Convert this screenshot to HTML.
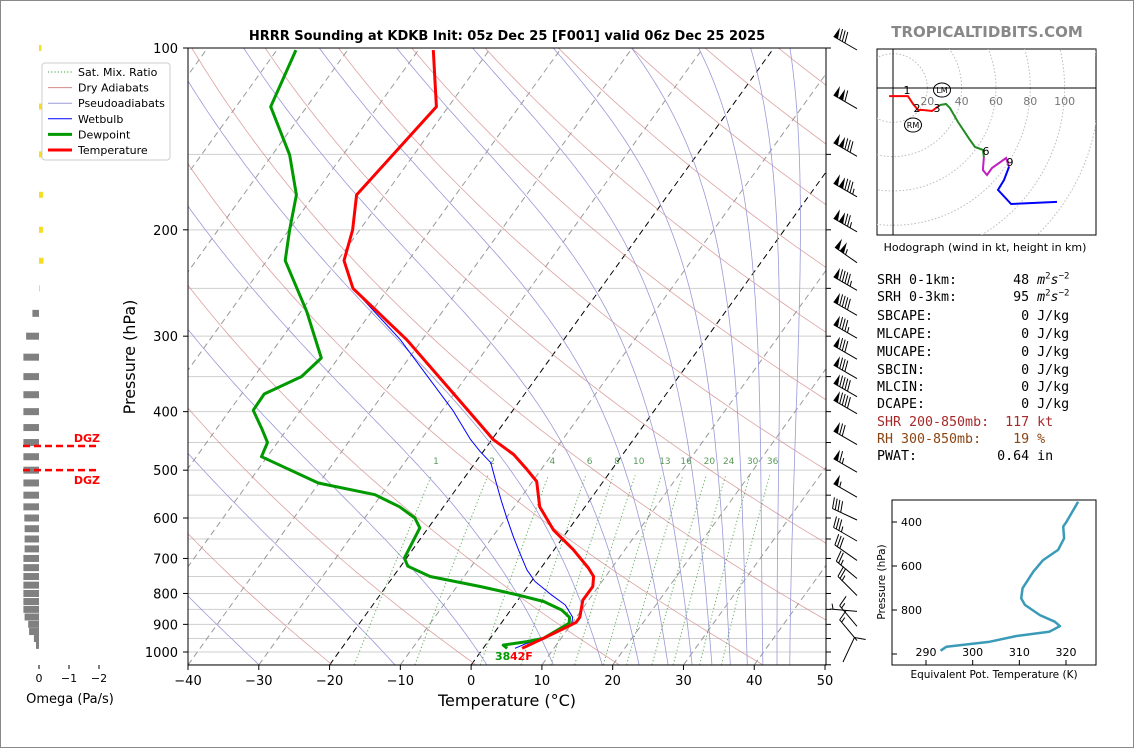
<!DOCTYPE html>
<html><head><meta charset="utf-8">
<style>
html,body{margin:0;padding:0;background:#fff;}
#wrap{position:relative;width:1134px;height:748px;overflow:hidden;font-family:"DejaVu Sans","Liberation Sans",sans-serif;}
.tp{position:absolute;left:877px;font-family:"DejaVu Sans Mono","Liberation Mono",monospace;font-size:13.3px;white-space:pre;line-height:16px;color:#000;}
.tp sup{font-size:9px;line-height:0;}
</style></head>
<body>
<div id="wrap">
<svg id="svg" width="1134" height="748" xmlns="http://www.w3.org/2000/svg" style="position:absolute;left:0;top:0">
<defs>
<clipPath id="clipMain"><rect x="188" y="48" width="638" height="617"/></clipPath>
<clipPath id="clipHodo"><rect x="877" y="49" width="219" height="186"/></clipPath>
<clipPath id="clipTe"><rect x="892" y="500" width="204" height="165"/></clipPath>
</defs>
<rect x="0.5" y="0.5" width="1133" height="747" fill="#fff" stroke="#888"/>
<text x="507" y="40" text-anchor="middle" font-size="13" font-weight="bold">HRRR Sounding at KDKB Init: 05z Dec 25 [F001] valid 06z Dec 25 2025</text>
<text x="987" y="37" text-anchor="middle" font-size="15" font-weight="bold" fill="#888">TROPICALTIDBITS.COM</text>
<g id="bg" clip-path="url(#clipMain)"></g>
<g id="series" clip-path="url(#clipMain)"></g>
<rect x="188" y="48" width="638" height="617" fill="none" stroke="#000" stroke-width="1"/>
<g id="axes"></g>
<text x="507" y="706" text-anchor="middle" font-size="16">Temperature (°C)</text>
<text transform="translate(135,357) rotate(-90)" text-anchor="middle" font-size="16">Pressure (hPa)</text>
<g id="barbs"></g>
<g id="omega"></g>
<g id="legend"></g>
<g id="hodo"></g>
<g id="te"></g>
</svg>
<div class="tp" style="top:273px">SRH 0-1km:       48 <i>m</i><sup>2</sup><i>s</i><sup>−2</sup></div>
<div class="tp" style="top:290px">SRH 0-3km:       95 <i>m</i><sup>2</sup><i>s</i><sup>−2</sup></div>
<div class="tp" style="top:309px">SBCAPE:           0 J/kg</div>
<div class="tp" style="top:327px">MLCAPE:           0 J/kg</div>
<div class="tp" style="top:345px">MUCAPE:           0 J/kg</div>
<div class="tp" style="top:363px">SBCIN:            0 J/kg</div>
<div class="tp" style="top:380px">MLCIN:            0 J/kg</div>
<div class="tp" style="top:397px">DCAPE:            0 J/kg</div>
<div class="tp" style="top:415px;color:#a52a2a">SHR 200-850mb:  117 kt</div>
<div class="tp" style="top:432px;color:#8b4513">RH 300-850mb:    19 %</div>
<div class="tp" style="top:449px">PWAT:          0.64 in</div>
</div>
<script>
// ---------- data ----------
const tempP = [100.8,125.1,175.1,200.1,224.9,250,304,372.7,445,471,497,522,575,628,677,726,750,779,821,876,893,910,949,986];
const tempT = [-67.9,-61.7,-64.0,-61.0,-59.1,-55.0,-42.2,-30.2,-19.8,-15.4,-12.2,-9.4,-6.4,-2.1,2.7,6.7,8.3,9.2,9.2,10.5,10.5,9.6,7.5,5.5];
const dewP = [100.8,125.1,150.4,175.1,200.1,224.9,273,326,350,374,398,426,450,475,525,549,575,600,623,699,721,750,779,806,825,852,876,896,949,961,974,986];
const dewT = [-87.3,-85.1,-77.5,-72.5,-69.9,-67.4,-59.2,-52.4,-53.3,-56.8,-56.7,-53.7,-51.4,-50.8,-40.1,-30.9,-26.2,-22.9,-21.2,-20.3,-19.0,-14.8,-6.7,-0.2,3.8,7.2,9.05,9.6,7.5,5.5,2.5,3.4];
const wbP = [100.8,125.1,175.1,200.1,224.9,250,304,398,445,466,486,526,561,597,644,686,731,764,801,836,876,898,949,968,986];
const wbT = [-67.9,-61.7,-64.0,-61.0,-59.1,-55.0,-43.1,-28.5,-23.0,-20.4,-17.8,-14.9,-12.5,-10.1,-7.1,-4.5,-1.8,0.5,3.9,7.2,9.5,10.0,7.5,5.6,4.5];
const mixRatios = [1,2,4,6,8,10,13,16,20,24,30,36];
const mixLabels = ["1","2","4","6","8","10","13","16","20","24","30","36"];
const dryThetas = [230,250,270,290,310,330,350,370,390,410,430,450,470,490,510];
const moistT0 = [-30,-10.8,2.2,11.6,18.5,23.7,27.8,31.2,34,36.6,39,41.2,43.2,45];
const isotherms = [-120,-110,-100,-90,-80,-70,-60,-50,-40,-30,-20,-10,0,10,20,30,40,50];
const gridP = [100,150,200,250,300,350,400,450,500,550,600,650,700,750,800,850,900,950,1000,1050];
const yTickP = [100,200,300,400,500,600,700,800,900,1000];
const xTickT = [-40,-30,-20,-10,0,10,20,30,40,50];
const barbP = [100,125,150,175,200,225,250,275,300,325,350,375,400,450,500,550,600,650,700,750,800,850,900,950,1000];
const barbSpd = [80,110,130,135,125,105,95,90,85,80,80,90,90,70,65,55,40,35,30,25,25,5,15,15,10];
const barbDir = [300,300,300,300,300,305,300,300,300,300,300,300,300,300,300,300,295,300,305,310,315,275,320,320,25];
const omegaP = [275,300,325,350,375,400,425,450,475,500,525,550,575,600,625,650,675,700,725,750,775,800,825,850,875,900,925,950,975];
const omegaV = [0.22,0.43,0.52,0.52,0.52,0.52,0.52,0.52,0.52,0.52,0.52,0.52,0.52,0.49,0.48,0.48,0.48,0.52,0.52,0.52,0.52,0.52,0.52,0.52,0.48,0.36,0.33,0.17,0.1];
const omegaNegP = [100,125,150,175,200,225,250];
const omegaNegV = [-0.08,-0.13,-0.1,-0.13,-0.13,-0.15,-0.03];
const hodoU = [-2.3,8.7,11.7,14.6,17.5,22.7, 27.4,30.9,33.2,37.9,44.9,47.8,52.4, 53,52.4,54.8,57.7,65.9, 67.6,64.7,61.2,68.8,95.6];
const hodoV = [-4.7,-4.7,-9.3,-12.8,-12.8,-13.4, -9.9,-9.3,-11.7,-19.8,-30.3,-34.4,-36.1, -40.2,-47.8,-50.7,-46.6,-40.8, -46,-53.6,-59.4,-67.6,-66.4];
const hodoSeg = [0,0,0,0,0,0, 1,1,1,1,1,1,1, 2,2,2,2,2, 3,3,3,3,3];
const teTheta = [322.6,320.1,319.4,319.6,318.3,315.1,313.0,310.7,310.4,311.2,314.4,317.6,318.7,316.4,309.4,303.7,294.4,293.1];
const teP = [308,399,421,474,527,573,626,701,747,777,823,853,873,899,918,944,967,985];

// ---------- helpers ----------
const NS = "http://www.w3.org/2000/svg";
function mk(tag, attrs, parent){ const e=document.createElementNS(NS,tag); for(const k in attrs) e.setAttribute(k,attrs[k]); parent.appendChild(e); return e; }
const yP = p => 48 + 604*Math.log10(p/100);
const xT = (T,p) => 188 + (T+40)*7.078 + 0.72*(665 - yP(p));
function logRange(p0,p1,n){ const a=[]; for(let i=0;i<=n;i++){ a.push(p0*Math.pow(p1/p0,i/n)); } return a; }
function ptsStr(arr){ return arr.map(q=>q[0].toFixed(1)+","+q[1].toFixed(1)).join(" "); }

const bg = document.getElementById('bg');
const series = document.getElementById('series');
const axes = document.getElementById('axes');

gridP.forEach(p=>{
  const l = mk('line',{x1:188,x2:826,y1:yP(p),y2:yP(p),stroke:'#cfcfcf','stroke-width':1},bg);
  
  
});
isotherms.forEach(T=>{
  const blk = (T===0||T===-20);
  const l = mk('line',{x1:xT(T,1050),y1:yP(1050),x2:xT(T,100),y2:yP(100),stroke:blk?'#000':'#999','stroke-width':1,'stroke-dasharray':'6,4'},bg);
  
  
});
const pl = logRange(1050,100,60);
dryThetas.forEach(th=>{
  const pts = pl.map(p=>[xT(th*Math.pow(p/1000,0.2857)-273.15,p), yP(p)]);
  const l = mk('polyline',{points:ptsStr(pts),fill:'none',stroke:'#d48a8a','stroke-width':0.8,opacity:0.8},bg);
  
  
});
function es(Tc){ return 6.112*Math.exp(17.67*Tc/(Tc+243.5)); }
moistT0.forEach(t0=>{
  let T=t0+273.15; const pts=[]; const n=200; let p=1050;
  const dl = Math.log(100/1050)/n;
  for(let i=0;i<=n;i++){
    pts.push([xT(T-273.15,p),yP(p)]);
    const e=es(T-273.15); const rs=0.622*e/Math.max(p-e,1);
    const dTdl=(287*T+2.5e6*rs)/(1005+2.5e6*2.5e6*rs*0.622/(287*T*T));
    T += dTdl*dl; p = p*Math.exp(dl);
  }
  const l = mk('polyline',{points:ptsStr(pts),fill:'none',stroke:'#9a9ad8','stroke-width':0.8},bg);
  
  
});
function tdFromW(w,p){ const e=w*p/(622+w); const L=Math.log(e/6.112); return 243.5*L/(17.67-L); }
mixRatios.forEach((w,i)=>{
  const pts = logRange(1050,510,20).map(p=>[xT(tdFromW(w,p),p),yP(p)]);
  const l = mk('polyline',{points:ptsStr(pts),fill:'none',stroke:'#3c9a3c','stroke-width':1,'stroke-dasharray':'1.2,2.4',opacity:0.8},bg);
  
  
  const t = mk('text',{x:xT(tdFromW(w,490),490),y:yP(490)-1,'text-anchor':'middle','font-size':9,fill:'#5a9a5a'},bg);
  t.textContent = mixLabels[i];
  
  
});
function drawSeries(P,T,color,w,name){
  const pts = P.map((p,i)=>[xT(T[i],p),yP(p)]);
  const l = mk('polyline',{points:ptsStr(pts),fill:'none',stroke:color,'stroke-width':w,'stroke-linejoin':'round'},series);
  
  
}
drawSeries(wbP,wbT,'#0000ff',1,'wetbulb-line');
drawSeries(dewP,dewT,'#009900',3,'dewpoint-line');
drawSeries(tempP,tempT,'#ff0000',3,'temperature-line');
{
  const t1 = mk('text',{x:495,y:660,'font-size':11,'font-weight':'bold',fill:'#009900'},series);
  t1.textContent='38';
  
  
  const t2 = mk('text',{x:510,y:660,'font-size':11,'font-weight':'bold',fill:'#ff0000'},series);
  t2.textContent='42F';
  
  
}
xTickT.forEach(T=>{
  const x = 188+(T+40)*7.078;
  mk('line',{x1:x,x2:x,y1:665,y2:670,stroke:'#000'},axes);
  const t = mk('text',{x:x,y:685,'text-anchor':'middle','font-size':13},axes);
  t.textContent = (T<0?'\u2212':'')+Math.abs(T);
  
  
});
yTickP.forEach(p=>{
  mk('line',{x1:183,x2:188,y1:yP(p),y2:yP(p),stroke:'#000'},axes);
  const t = mk('text',{x:178,y:yP(p)+5,'text-anchor':'end','font-size':13},axes);
  t.textContent = p;
  
  
});
gridP.forEach(p=>{ if(yP(p)<=665) mk('line',{x1:826,x2:831,y1:yP(p),y2:yP(p),stroke:'#000'},axes); });

// wind barbs
const barbs = document.getElementById('barbs');
barbP.forEach((p,i)=>{
  const g = mk('g',{},barbs);
  
  
  const d = barbDir[i]*Math.PI/180;
  const ux = Math.sin(d), uy = -Math.cos(d);
  const last = (i===barbP.length-1);
  const bx = last?843:857, by = last?yP(p)+10:yP(p)+2;
  const L = 27;
  const tx = bx+ux*L, ty = by+uy*L;
  mk('line',{x1:bx,y1:by,x2:tx,y2:ty,stroke:'#000','stroke-width':1},g);
  const px = -uy, py = ux;
  let spd = Math.round(barbSpd[i]/5)*5; let pos = 0;
  const flen = 11;
  while(spd>=50){
    const sx=tx-ux*pos, sy=ty-uy*pos;
    const ex=sx-ux*5, ey=sy-uy*5;
    mk('polygon',{points:`${sx},${sy} ${ex},${ey} ${sx+px*flen-ux*1},${sy+py*flen-uy*1}`,fill:'#000'},g);
    pos+=6; spd-=50;
  }
  if(pos>0) pos+=1;
  while(spd>=10){
    const sx=tx-ux*pos, sy=ty-uy*pos;
    mk('line',{x1:sx,y1:sy,x2:sx+px*flen+ux*3,y2:sy+py*flen+uy*3,stroke:'#000','stroke-width':1},g);
    pos+=3; spd-=10;
  }
  if(spd>=5){
    if(pos===0) pos=3;
    const sx=tx-ux*pos, sy=ty-uy*pos;
    mk('line',{x1:sx,y1:sy,x2:sx+px*flen*0.5+ux*1.5,y2:sy+py*flen*0.5+uy*1.5,stroke:'#000','stroke-width':1},g);
  }
});

// omega panel
const om = document.getElementById('omega');
const xO = v => 39 - v*30;
omegaP.forEach((p,i)=>{
  const x0=xO(omegaV[i]);
  const r = mk('rect',{x:Math.min(x0,39),y:yP(p)-3.5,width:Math.abs(39-x0),height:7,fill:'#808080'},om);
  
  
});
omegaNegP.forEach((p,i)=>{
  const x0=xO(omegaNegV[i]);
  const r = mk('rect',{x:39,y:yP(p)-3,width:Math.abs(x0-39),height:6,fill:'#f5dd20'},om);
  
  
});
[[456,'DGZ',-4],[500,'DGZ',14]].forEach(d=>{
  const l = mk('line',{x1:23,x2:99,y1:yP(d[0]),y2:yP(d[0]),stroke:'#ff0000','stroke-width':2.5,'stroke-dasharray':'7,4'},om);
  
  
  const t = mk('text',{x:100,y:yP(d[0])+d[2],'text-anchor':'end','font-size':11,'font-weight':'bold',fill:'#ff0000'},om);
  t.textContent=d[1];
  
  
});
[[0,'0'],[-1,'\u22121'],[-2,'\u22122']].forEach(d=>{
  const x=xO(d[0]);
  mk('line',{x1:x,x2:x,y1:665,y2:669,stroke:'#000'},om);
  const t=mk('text',{x:x,y:682,'text-anchor':'middle','font-size':11},om);
  t.textContent=d[1];
  
  
});
{
  const t=mk('text',{x:70,y:703,'text-anchor':'middle','font-size':13},om);
  t.textContent='Omega (Pa/s)';
  
  
}

// legend
const lg = document.getElementById('legend');
mk('rect',{x:42,y:63,width:128,height:97,rx:3,fill:'#fff',stroke:'#ccc'},lg);
const legItems = [['Sat. Mix. Ratio','#3c9a3c',1,'1.2,2'],['Dry Adiabats','#d48a8a',1,''],['Pseudoadiabats','#9a9ad8',1,''],['Wetbulb','#0000ff',1,''],['Dewpoint','#009900',3,''],['Temperature','#ff0000',3,'']];
legItems.forEach((it,i)=>{
  const y = 72+i*15.6;
  const g = mk('g',{},lg);
  
  
  const a={x1:48,x2:72,y1:y,y2:y,stroke:it[1],'stroke-width':it[2]}; if(it[3]) a['stroke-dasharray']=it[3];
  mk('line',a,g);
  const t=mk('text',{x:78,y:y+4,'font-size':11},g);
  t.textContent=it[0];
});

// hodograph
const hd = document.getElementById('hodo');
const hx0=893, hy0=88, hs=1.716;
mk('rect',{x:877,y:49,width:219,height:186,fill:'#fff',stroke:'#000'},hd);
const hc = mk('g',{'clip-path':'url(#clipHodo)'},hd);
[20,40,60,80,100,120].forEach(r=>{
  mk('circle',{cx:hx0,cy:hy0,r:r*hs,fill:'none',stroke:'#bbb','stroke-width':1,'stroke-dasharray':'1.5,2'},hc);
});
mk('line',{x1:877,x2:1096,y1:hy0,y2:hy0,stroke:'#000'},hc);
mk('line',{x1:hx0,x2:hx0,y1:49,y2:235,stroke:'#000'},hc);
[20,40,60,80,100].forEach(r=>{
  const t=mk('text',{x:hx0+r*hs,y:hy0+17,'text-anchor':'middle','font-size':11,fill:'#777'},hc);
  t.textContent=r;
  
  
});
const segCol=['#ff0000','#228b22','#c020c0','#0000ff'];
for(let s=0;s<4;s++){
  const pts=[];
  hodoU.forEach((u,i)=>{ if(hodoSeg[i]===s) pts.push([hx0+u*hs, hy0-hodoV[i]*hs]); });
  const nextIdx = hodoSeg.indexOf(s+1);
  if(nextIdx>0) pts.push([hx0+hodoU[nextIdx]*hs, hy0-hodoV[nextIdx]*hs]);
  const l=mk('polyline',{points:ptsStr(pts),fill:'none',stroke:segCol[s],'stroke-width':2},hc);
  
  
}
[['1',907,94],['2',917,112],['3',937,112],['6',986,155],['9',1010,166]].forEach(d=>{
  const t=mk('text',{x:d[1],y:d[2],'text-anchor':'middle','font-size':11},hc);
  t.textContent=d[0];
  
  
});
[['LM',942,90],['RM',913,125]].forEach(d=>{
  mk('ellipse',{cx:d[1],cy:d[2],rx:8.5,ry:7,fill:'none',stroke:'#000'},hc);
  const t=mk('text',{x:d[1],y:d[2]+3,'text-anchor':'middle','font-size':8},hc);
  t.textContent=d[0];
  
  
});
{
  const t=mk('text',{x:985,y:251,'text-anchor':'middle','font-size':11},hd);
  t.textContent='Hodograph (wind in kt, height in km)';
  
  
}

// theta-e panel
const te = document.getElementById('te');
const xTh = t => 926 + (t-290)*4.667;
const yPl = p => 500 + (p-300)*0.22;
mk('rect',{x:892,y:500,width:204,height:165,fill:'#fff',stroke:'#000'},te);
const tc = mk('g',{'clip-path':'url(#clipTe)'},te);
{
  const l=mk('polyline',{points:ptsStr(teTheta.map((t,i)=>[xTh(t),yPl(teP[i])])),fill:'none',stroke:'#3a9bb8','stroke-width':2.5,'stroke-linejoin':'round'},tc);
  
  
}
[400,600,800,1000].forEach(p=>{
  mk('line',{x1:892,x2:897,y1:yPl(p),y2:yPl(p),stroke:'#000'},te);
  if(p<1000){
    const t=mk('text',{x:922,y:yPl(p)+4,'text-anchor':'end','font-size':11},te);
    t.textContent=p;
    
    
  }
});
[290,300,310,320].forEach(v=>{
  mk('line',{x1:xTh(v),x2:xTh(v),y1:665,y2:660,stroke:'#000'},te);
  const t=mk('text',{x:xTh(v),y:656,'text-anchor':'middle','font-size':11},te);
  t.textContent=v;
  
  
});
{
  const t=mk('text',{x:994,y:678,'text-anchor':'middle','font-size':10.5},te);
  t.textContent='Equivalent Pot. Temperature (K)';
  
  
  const t2=mk('text',{transform:'translate(885,582) rotate(-90)','text-anchor':'middle','font-size':10.5},te);
  t2.textContent='Pressure (hPa)';
  
  
}
</script>
</body></html>
